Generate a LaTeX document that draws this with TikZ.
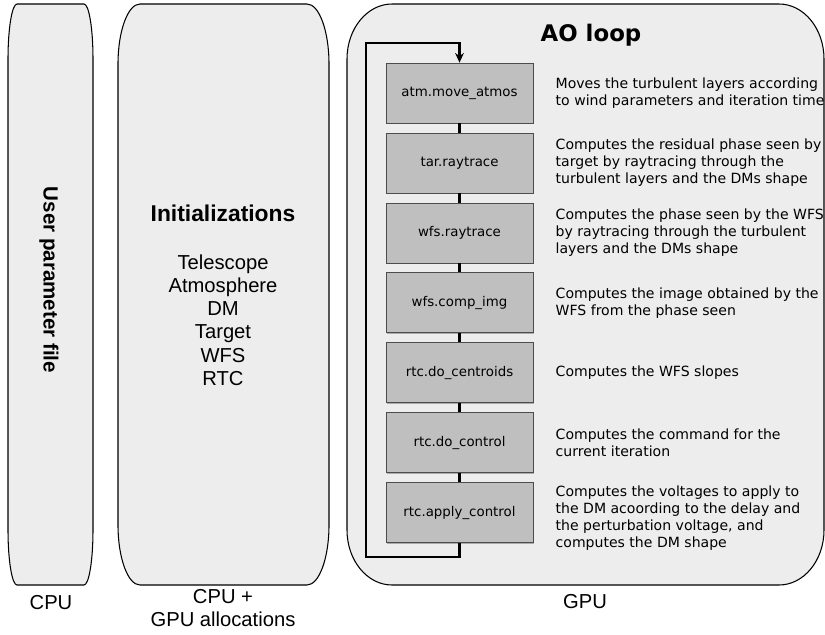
\documentclass[tikz,border=0pt]{standalone}
\usepackage{fontspec}
\setmainfont{DejaVu Sans}
\newfontfamily\arialfont{Liberation Sans}
\usepackage{tikz}
\usetikzlibrary{positioning,arrows.meta,shadows}

% panel with elliptic corners: style, left, top, right, bottom, rx, ry
\newcommand{\softpanel}[7]{%
  \draw[#1] ({#2},{#3+#7}) .. controls ({#2},{#3+0.448*#7}) and ({#2+0.448*#6},{#3}) .. ({#2+#6},{#3})
    -- ({#4-#6},{#3}) .. controls ({#4-0.448*#6},{#3}) and ({#4},{#3+0.448*#7}) .. ({#4},{#3+#7})
    -- ({#4},{#5-#7}) .. controls ({#4},{#5-0.448*#7}) and ({#4-0.448*#6},{#5}) .. ({#4-#6},{#5})
    -- ({#2+#6},{#5}) .. controls ({#2+0.448*#6},{#5}) and ({#2},{#5-0.448*#7}) .. ({#2},{#5-#7})
    -- cycle;}

\begin{document}
\begin{tikzpicture}[
  x=0.02cm, y=-0.02cm,
  >={Stealth[length=5.5pt,width=5pt]},
  panel/.style={draw=black, line width=0.6pt, fill=black!7},
  stage/.style={
    draw=black!70, fill=black!25, minimum width=2.94cm, minimum height=1.2cm,
    font={\fontsize{7.6}{9.6}\selectfont},
    drop shadow={shadow xshift=0.5pt, shadow yshift=-0.5pt, opacity=0.6}
  },
  desc/.style={anchor=west, align=left, inner sep=0pt, font={\fontsize{8}{9.6}\selectfont}},
  link/.style={line width=1.2pt},
  loopline/.style={->, line width=1.6pt},
  lab/.style={align=center, font={\arialfont\fontsize{11.5}{13.2}\selectfont}}
]
\useasboundingbox (0,0) rectangle (825,635);

% --- Panels (CPU, CPU+GPU, GPU)
\softpanel{panel}{8}{4}{93}{585}{9}{55}
\softpanel{panel}{118}{4}{329}{585}{22}{60}
\softpanel{panel}{347}{4}{824}{585}{45}{55}

% --- CPU
\node[rotate=-90, font={\arialfont\bfseries\fontsize{11.7}{14}\selectfont}] (upf) at (49,280) {User parameter file};
\node[lab] (cpu) at (51,603) {CPU};

% --- Initializations
\node[font={\arialfont\bfseries\fontsize{13}{15}\selectfont}] (init) at (223,213) {Initializations};
\node[lab] (initlist) at (223,320) {Telescope\\Atmosphere\\DM\\Target\\WFS\\RTC};
\node[lab] (cpugpu) at (223,608) {CPU +\\GPU allocations};

% --- AO loop
\node[font={\bfseries\fontsize{13}{15}\selectfont}] (aotitle) at (591,35) {AO loop};
\node[lab] (gpu) at (585,602) {GPU};

\node[stage] (atm)   at (459.5,93)             {atm.move\_atmos};
\node[stage, below=0.185cm of atm]   (tar)     {tar.raytrace};
\node[stage, below=0.185cm of tar]   (wfsray)  {wfs.raytrace};
\node[stage, below=0.185cm of wfsray] (wfsimg) {wfs.comp\_img};
\node[stage, below=0.185cm of wfsimg] (cent)   {rtc.do\_centroids};
\node[stage, below=0.185cm of cent]  (ctrl)    {rtc.do\_control};
\node[stage, below=0.185cm of ctrl]  (apply)   {rtc.apply\_control};

\draw[link] (atm) -- (tar);
\draw[link] (tar) -- (wfsray);
\draw[link] (wfsray) -- (wfsimg);
\draw[link] (wfsimg) -- (cent);
\draw[link] (cent) -- (ctrl);
\draw[link] (ctrl) -- (apply);

% --- retour de boucle
\coordinate (loopbl) at (366,557);
\coordinate (looptl) at (366,43);
\draw[loopline] (apply.south) |- (loopbl) -- (looptl) -| (atm.north);

% --- descriptions
\node[desc, right=0.44cm of atm]    (atmtxt)  {Moves the turbulent layers according\\to wind parameters and iteration time};
\node[desc, right=0.44cm of tar]    (tartxt)  {Computes the residual phase seen by\\target by raytracing through the\\turbulent layers and the DMs shape};
\node[desc, right=0.44cm of wfsray] (raytxt)  {Computes the phase seen by the WFS\\by raytracing through the turbulent\\layers and the DMs shape};
\node[desc, right=0.44cm of wfsimg] (imgtxt)  {Computes the image obtained by the\\WFS from the phase seen};
\node[desc, right=0.44cm of cent]   (centtxt) {Computes the WFS slopes};
\node[desc, right=0.44cm of ctrl]   (ctrltxt) {Computes the command for the\\current iteration};
\node[desc, right=0.44cm of apply, yshift=-3pt] (applytxt) {Computes the voltages to apply to\\the DM acoording to the delay and\\the perturbation voltage, and\\computes the DM shape};

\end{tikzpicture}
\end{document}
